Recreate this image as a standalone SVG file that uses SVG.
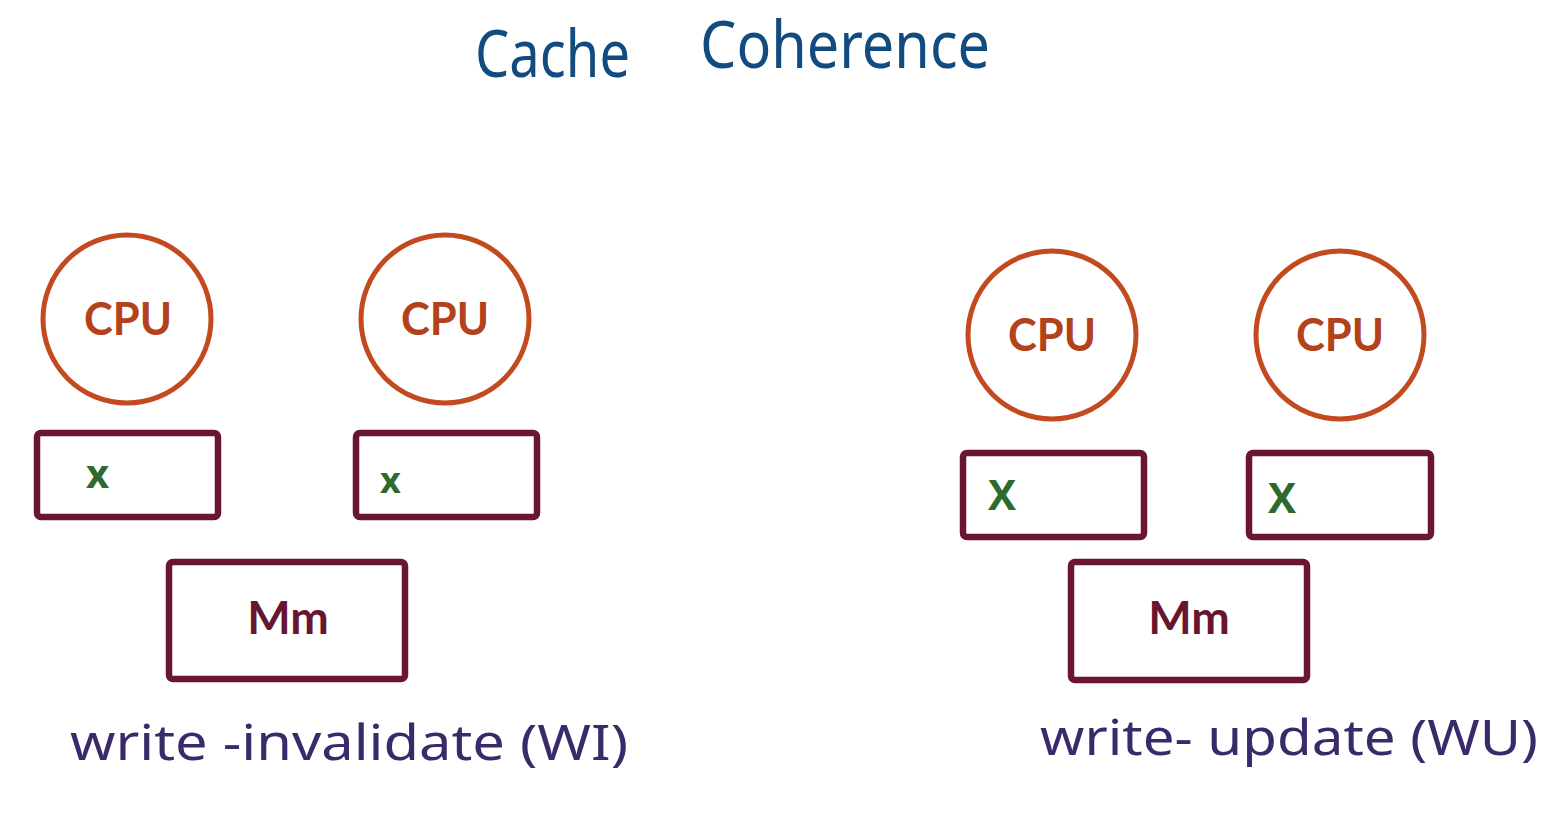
<svg xmlns="http://www.w3.org/2000/svg" width="1563" height="834" viewBox="0 0 1563 834">
<style>
.cpu circle{fill:none;stroke:#c24a1e;stroke-width:5}
.cpu text{font-family:"Lato","Open Sans",sans-serif;font-weight:bold;font-size:45px;fill:#b3411c;text-anchor:middle}
.box rect{fill:none;stroke:#6a1631;stroke-width:6.5}
.box text{font-family:"Open Sans","Noto Sans",sans-serif;font-weight:bold;fill:#2e6a2e}
.mm rect{fill:none;stroke:#6a1631;stroke-width:6.5}
.mm text{font-family:"Lato","Open Sans",sans-serif;font-weight:bold;font-size:46px;fill:#661630;text-anchor:middle}
.title{font-family:"Noto Sans","DejaVu Sans",sans-serif;font-size:66px;fill:#124b7f}
.lbl{font-family:"Noto Sans","DejaVu Sans",sans-serif;font-size:50px;fill:#3b2a6a}
</style>
<rect width="1563" height="834" fill="#ffffff"/>
<g id="title">
<text class="title" x="475" y="77" textLength="155" lengthAdjust="spacingAndGlyphs">Cache</text>
<text class="title" x="700" y="68" textLength="290" lengthAdjust="spacingAndGlyphs">Coherence</text>
</g>
<g id="cpu1" class="cpu"><circle cx="127" cy="319" r="84"/><text x="128" y="335" textLength="88" lengthAdjust="spacingAndGlyphs">CPU</text></g>
<g id="cpu2" class="cpu"><circle cx="445" cy="319" r="84"/><text x="445" y="335" textLength="88" lengthAdjust="spacingAndGlyphs">CPU</text></g>
<g id="cpu3" class="cpu"><circle cx="1052" cy="335" r="84"/><text x="1052" y="351" textLength="88" lengthAdjust="spacingAndGlyphs">CPU</text></g>
<g id="cpu4" class="cpu"><circle cx="1340" cy="335" r="84"/><text x="1340" y="351" textLength="88" lengthAdjust="spacingAndGlyphs">CPU</text></g>
<g id="cache1" class="box"><rect x="37" y="433" width="181" height="84" rx="4"/><text x="86" y="488" font-size="40">x</text></g>
<g id="cache2" class="box"><rect x="356" y="433" width="181" height="84" rx="4"/><text x="380" y="493" font-size="36">x</text></g>
<g id="cache3" class="box"><rect x="963" y="453" width="181" height="84" rx="4"/><text x="988" y="510" font-size="42">X</text></g>
<g id="cache4" class="box"><rect x="1249" y="453" width="182" height="84" rx="4"/><text x="1268" y="513" font-size="42">X</text></g>
<g id="mm1" class="mm"><rect x="169" y="562" width="236" height="117" rx="4"/><text x="288" y="634">Mm</text></g>
<g id="mm2" class="mm"><rect x="1071" y="562" width="236" height="118" rx="4"/><text x="1189" y="634">Mm</text></g>
<g id="labels">
<text class="lbl" x="70" y="760" textLength="558" lengthAdjust="spacingAndGlyphs">write -invalidate (WI)</text>
<text class="lbl" x="1040" y="755" textLength="498" lengthAdjust="spacingAndGlyphs">write- update (WU)</text>
</g>
<g id="connectors"></g>
</svg>
